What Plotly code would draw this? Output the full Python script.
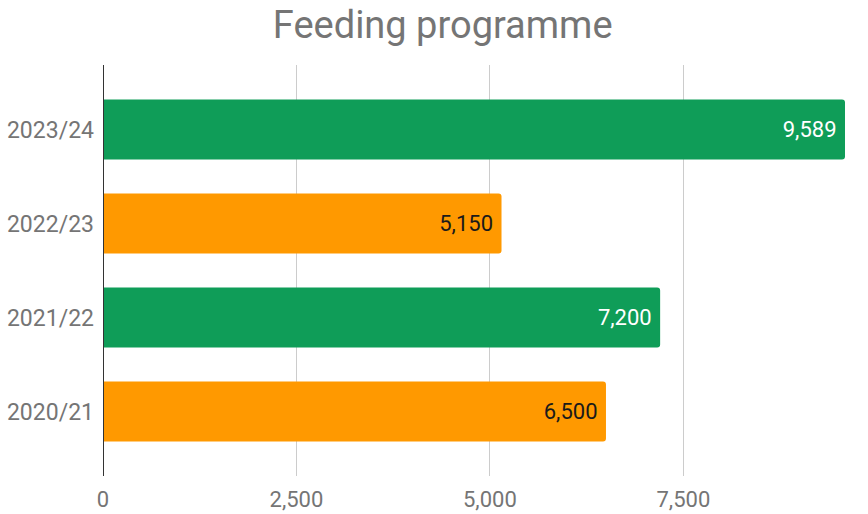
import plotly.graph_objects as go

# data, top to bottom as shown
years = ['2023/24', '2022/23', '2021/22', '2020/21']
fed = [9589, 5150, 7200, 6500]
bar_colours = ['#0f9d58', '#ff9900', '#0f9d58', '#ff9900']
label_colours = ['#ffffff', '#1a1a1a', '#ffffff', '#1a1a1a']
x_ticks = [0, 2500, 5000, 7500]

fig = go.Figure()
fig.add_trace(go.Bar(
    y=years, x=fed, orientation='h',
    marker=dict(color=bar_colours, line=dict(width=0)),
    text=[f'{v:,}\u00a0' for v in fed],
    textposition='inside', insidetextanchor='end',
    textfont=dict(family='Roboto', size=22, color=label_colours),
    hoverinfo='skip',
))

fig.update_layout(
    width=868, height=514,
    margin=dict(l=103, r=23, t=65, b=38, autoexpand=False),
    paper_bgcolor='white', plot_bgcolor='white',
    bargap=0.36, barcornerradius=3,
    showlegend=False,
    title=dict(text='Feeding programme', x=0.51, xref='container', xanchor='center',
               y=0.951, yref='container', yanchor='middle',
               font=dict(family='Roboto', size=38, color='#757575')),
    xaxis=dict(range=[0, 9589], tickvals=x_ticks, ticktext=[f'{v:,}' for v in x_ticks],
               showgrid=True, gridcolor='#cccccc', gridwidth=1, automargin=False,
               zeroline=False, showline=False, ticks='', ticklabelstandoff=8,
               tickfont=dict(family='Roboto', size=22, color='#757575')),
    yaxis=dict(type='category', range=[3.686, -0.686], showgrid=False, automargin=False,
               showline=False, zeroline=False, ticks='', ticklabelstandoff=8,
               tickfont=dict(family='Roboto', size=23, color='#757575')),
)
# baseline at zero
fig.add_shape(type='line', xref='x', yref='paper', x0=0, x1=0, y0=0, y1=1,
              line=dict(color='#333333', width=2), layer='above')

# drop the default 8px body margin so the figure fills the window
fig.write_html('out.html', config={'displayModeBar': False},
               post_script="document.body.style.margin='0';")
